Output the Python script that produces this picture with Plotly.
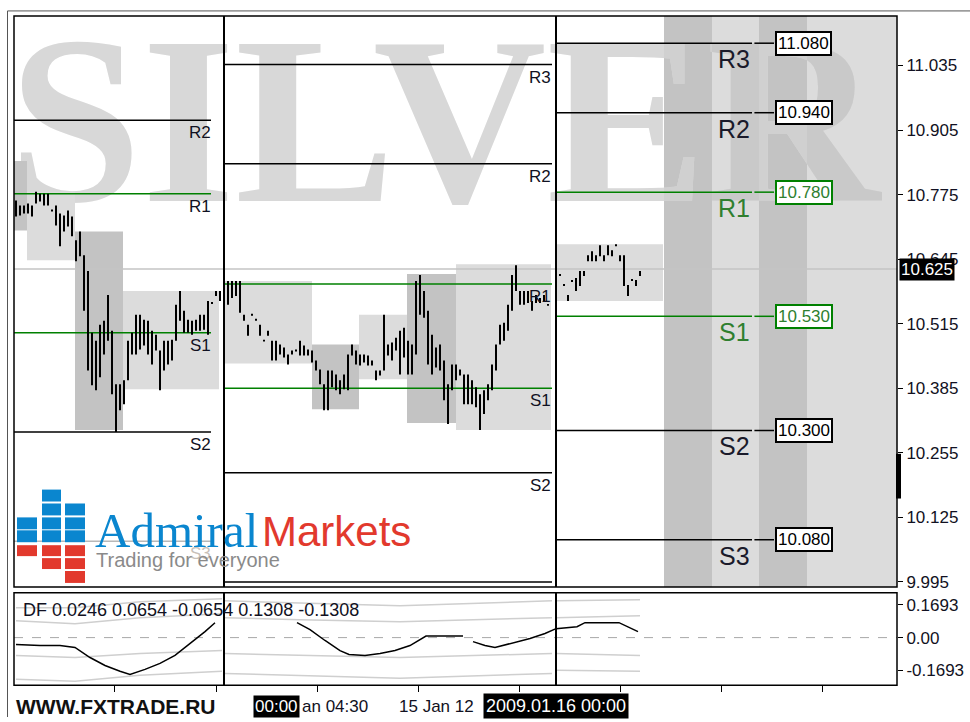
import plotly.graph_objects as go

W, H = 970, 722
def PX(x): return x / W
def PY(y): return 1 - y / H

# ---------------- price bars (bar index, high, low) ----------------
seg1_idx = list(range(0, 52))
seg1_high = [10.763,10.753,10.753,10.757,10.753,10.781,10.777,10.777,10.777,10.745,10.753,10.737,10.733,10.743,10.731,10.683,
             10.701,10.653,10.621,10.497,10.481,10.513,10.521,10.573,10.501,10.393,10.393,10.401,10.481,10.497,10.533,10.533,
             10.523,10.521,10.501,10.493,10.461,10.481,10.481,10.483,10.553,10.581,10.541,10.523,10.521,10.523,10.533,10.533,
             10.561,10.559,10.581,10.581]
seg1_low = [10.731,10.733,10.737,10.737,10.731,10.757,10.761,10.753,10.753,10.741,10.713,10.671,10.701,10.711,10.691,10.641,
            10.651,10.541,10.421,10.391,10.381,10.407,10.453,10.481,10.373,10.297,10.341,10.353,10.401,10.453,10.453,10.463,
            10.471,10.453,10.433,10.461,10.381,10.421,10.433,10.441,10.481,10.521,10.497,10.497,10.493,10.501,10.501,10.503,
            10.493,10.555,10.571,10.561]
seg2_idx = list(range(52, 134))
seg2_high = [10.601,10.601,10.601,10.601,10.601,10.533,10.513,10.535,10.525,10.513,10.483,10.501,10.481,10.481,10.473,10.467,
             10.453,10.461,10.463,10.481,10.471,10.463,10.461,10.441,10.423,10.393,10.421,10.421,10.413,10.401,10.413,10.453,
             10.473,10.461,10.453,10.453,10.451,10.441,10.421,10.421,10.533,10.473,10.477,10.487,10.501,10.507,10.481,10.473,
             10.601,10.613,10.581,10.541,10.493,10.467,10.473,10.441,10.393,10.433,10.433,10.423,10.413,10.413,10.401,10.387,
             10.373,10.381,10.393,10.433,10.473,10.513,10.517,10.553,10.613,10.633,10.581,10.581,10.581,10.561,10.573,10.567,
             10.573,10.555]
seg2_low = [10.553,10.553,10.567,10.571,10.537,10.521,10.491,10.531,10.521,10.491,10.479,10.491,10.441,10.441,10.453,10.447,
            10.433,10.453,10.459,10.451,10.451,10.451,10.437,10.421,10.393,10.341,10.341,10.387,10.381,10.373,10.383,10.381,
            10.451,10.433,10.431,10.437,10.431,10.431,10.401,10.411,10.421,10.451,10.441,10.461,10.413,10.447,10.413,10.413,
            10.453,10.533,10.527,10.433,10.413,10.427,10.421,10.361,10.313,10.381,10.401,10.411,10.353,10.353,10.353,10.347,
            10.301,10.333,10.361,10.381,10.421,10.473,10.481,10.501,10.541,10.581,10.553,10.553,10.557,10.541,10.557,10.557,
            10.561,10.551]
seg3_idx = list(range(136, 157))
seg3_high = [10.615,10.595,10.573,10.603,10.607,10.621,10.621,10.653,10.661,10.653,10.673,10.653,10.673,10.663,10.675,10.653,
             10.653,10.593,10.605,10.603,10.621]
seg3_low = [10.611,10.591,10.561,10.599,10.581,10.591,10.611,10.641,10.641,10.641,10.651,10.641,10.653,10.651,10.671,10.641,
            10.591,10.571,10.601,10.591,10.611]

# ---------------- session boxes ----------------
box_x0 = [-0.5, 2.75, 14.75, 26.75, 52, 74, 85.75, 97.75, 110, 135.25]
box_x1 = [2.75, 14.75, 26.75, 50.75, 74, 85.75, 97.75, 110, 133.75, 161.75]
box_top = [10.843, 10.781, 10.701, 10.581, 10.601, 10.473, 10.533, 10.615, 10.635, 10.675]
box_bot = [10.703, 10.643, 10.301, 10.383, 10.435, 10.343, 10.403, 10.315, 10.301, 10.561]
box_dark = [1, 0, 1, 0, 0, 1, 0, 1, 0, 0]

band_x0 = [162, 174, 185.75, 197.75]
band_x1 = [174, 185.75, 197.75, 220.25]
band_dark = [1, 0, 1, 0]

# ---------------- pivot levels ----------------
piv1_names = ["R2", "R1", "S1", "S2", "S3"]
piv1_vals = [10.925, 10.777, 10.497, 10.297, 10.077]
piv2_names = ["R3", "R2", "R1", "S1", "S2", "S3"]
piv2_vals = [11.037, 10.837, 10.595, 10.385, 10.215, 9.995]
piv3_names = ["R3", "R2", "R1", "S1", "S2", "S3"]
piv3_vals = [11.080, 10.940, 10.780, 10.530, 10.300, 10.080]
piv3_text = ["11.080", "10.940", "10.780", "10.530", "10.300", "10.080"]

seg1_span = (-0.5, 48.75)
seg2_span = (52, 134)
seg3_span = (135.25, 184)
seg3_tail = (184.6, 189.5)
label_box_x = 196.9
separators = [52, 135]
current_price = 10.625

price_ticks = [9.995, 10.125, 10.255, 10.385, 10.515, 10.645, 10.775, 10.905, 11.035]
ind_ticks = [0.1693, 0.0, -0.1693]
ind_ticktext = ["0.1693", "0.00", "-0.1693"]
time_ticks = [-0.75, 24.5, 50, 75.25, 100.5, 125.75, 151, 176.25, 201.5]

# ---------------- indicator DF ----------------
df_x = [0, 6, 11, 14.75, 18.5, 22.25, 26, 28.5, 32.25, 36, 39.75, 43.5, 47.25, 49.75, None,
        70.25, 73.5, 77.25, 81, 83.25, 87.25, 91, 94.75, 98.5, 101.25, 102.5, 111.75, None,
        114.25, 117.25, 119.75, 123.5, 128.5, 132.25, 135, 140.25, 142.25, 150.75, 155.5]
df_y = [-0.036, -0.041, -0.041, -0.051, -0.103, -0.144, -0.174, -0.190, -0.164, -0.133, -0.092, -0.031, 0.031, 0.077, None,
        0.077, 0.041, -0.015, -0.067, -0.087, -0.092, -0.082, -0.067, -0.041, -0.010, 0.008, 0.008, None,
        -0.021, -0.041, -0.051, -0.031, -0.005, 0.021, 0.046, 0.056, 0.077, 0.077, 0.031]

band_seg_x = [[0, 14.75, 31, 51.5], [52.25, 71, 96, 134], [135, 156]]
band_lines = [
    [[0.154, 0.154, 0.185, 0.200], [0.190, 0.180, 0.164, 0.190], [0.190, 0.195]],
    [[0.087, 0.072, 0.103, 0.123], [0.103, 0.092, 0.082, 0.103], [0.103, 0.113]],
    [[-0.092, -0.103, -0.082, -0.067], [-0.082, -0.092, -0.103, -0.082], [-0.082, -0.092]],
    [[-0.215, -0.226, -0.195, -0.174], [-0.185, -0.195, -0.210, -0.185], [-0.169, -0.174]],
]

DARK = "#c3c3c3"
LIGHT = "#dcdcdc"
GREEN = "#008000"
TXT = "#111122"
FONT = "Liberation Sans"
WM_TEXT = "<b>SILVER</b>"
WM_X, WM_Y, WM_SIZE = 107.0, 10.884, 240

X0_PIX, X1_PIX = 14, 897
XR = (-0.5, 220.25)
def k2px(k):
    return X0_PIX + (k - XR[0]) / (XR[1] - XR[0]) * (X1_PIX - X0_PIX)

fig = go.Figure()

# watermark
fig.add_trace(go.Scatter(x=[WM_X], y=[WM_Y], mode="text", text=[WM_TEXT],
                         textfont=dict(family="Liberation Serif", size=WM_SIZE, color="#d8d8d8"),
                         xaxis="x", yaxis="y", hoverinfo="skip", showlegend=False, cliponaxis=False))

# session boxes
for flag, col in ((0, LIGHT), (1, DARK)):
    xs, ys = [], []
    for x0, x1, t, b, d in zip(box_x0, box_x1, box_top, box_bot, box_dark):
        if d != flag:
            continue
        xs += [x0, x1, x1, x0, x0, None]
        ys += [b, b, t, t, b, None]
    fig.add_trace(go.Scatter(x=xs, y=ys, fill="toself", fillcolor=col, mode="lines",
                             line=dict(width=0, color=col), xaxis="x", yaxis="y",
                             hoverinfo="skip", showlegend=False))

# current price line
fig.add_trace(go.Scatter(x=[XR[0], XR[1]], y=[current_price, current_price], mode="lines",
                         line=dict(color="#c4c4c4", width=1.5), xaxis="x", yaxis="y",
                         hoverinfo="skip", showlegend=False))

# pivot lines of the two past days (traces)
def piv_lines(names, vals, span, green):
    xs, ys = [], []
    for n, v in zip(names, vals):
        if (n in ("R1", "S1")) != green:
            continue
        xs += [span[0], span[1], None]
        ys += [v, v, None]
    return xs, ys

for green, col in ((False, "#000000"), (True, GREEN)):
    xs, ys = [], []
    for names, vals, span in ((piv1_names[:-1], piv1_vals[:-1], seg1_span),
                              (piv2_names, piv2_vals, seg2_span)):
        a, b = piv_lines(names, vals, span, green)
        xs += a
        ys += b
    fig.add_trace(go.Scatter(x=xs, y=ys, mode="lines", line=dict(color=col, width=1.5),
                             xaxis="x", yaxis="y", hoverinfo="skip", showlegend=False))
fig.add_trace(go.Scatter(x=[seg1_span[0], seg1_span[1]], y=[piv1_vals[-1]] * 2, mode="lines",
                         line=dict(color="#b8b8b8", width=1.5), xaxis="x", yaxis="y",
                         hoverinfo="skip", showlegend=False))

# bars
bx, by = [], []
for idx, hi, lo in ((seg1_idx, seg1_high, seg1_low), (seg2_idx, seg2_high, seg2_low), (seg3_idx, seg3_high, seg3_low)):
    for k, h, l in zip(idx, hi, lo):
        bx += [k, k, None]
        by += [l, max(h, l + 0.004), None]
fig.add_trace(go.Scatter(x=bx, y=by, mode="lines", line=dict(color="#000000", width=2),
                         xaxis="x", yaxis="y", hoverinfo="skip", showlegend=False))

# indicator
fig.add_trace(go.Scatter(x=[XR[0], XR[1]], y=[0, 0], mode="lines",
                         line=dict(color="#a8a8a8", width=1, dash="dash"), xaxis="x", yaxis="y2",
                         hoverinfo="skip", showlegend=False))
for line in band_lines:
    xs, ys = [], []
    for sx, sy in zip(band_seg_x, line):
        xs += sx + [None]
        ys += sy + [None]
    fig.add_trace(go.Scatter(x=xs, y=ys, mode="lines", line=dict(color="#cfcfcf", width=1.5),
                             xaxis="x", yaxis="y2", hoverinfo="skip", showlegend=False))
fig.add_trace(go.Scatter(x=df_x, y=df_y, mode="lines", line=dict(color="#000000", width=1.5),
                         xaxis="x", yaxis="y2", hoverinfo="skip", showlegend=False, connectgaps=False))

# watermark re-tinted where it crosses the future-time bands (clipped to each band's sub-axis)
extra_axes = {}
for i, (x0, x1, d) in enumerate(zip(band_x0, band_x1, band_dark)):
    ax = f"xaxis{i + 3}"
    extra_axes[ax] = dict(domain=[PX(k2px(x0)), PX(k2px(x1))], range=[x0, x1], visible=False,
                          anchor="y", fixedrange=True)
    fig.add_trace(go.Scatter(x=[WM_X], y=[WM_Y], mode="text", text=[WM_TEXT],
                             textfont=dict(family="Liberation Serif", size=WM_SIZE,
                                           color="#d0d0d0" if d else "#c9c9c9"),
                             xaxis=f"x{i + 3}", yaxis="y", hoverinfo="skip", showlegend=False,
                             cliponaxis=True))

# ---------------- shapes ----------------
shapes = []
for x0, x1, d in zip(band_x0, band_x1, band_dark):
    shapes.append(dict(type="rect", xref="x", yref="paper", x0=x0, x1=x1, y0=PY(591), y1=PY(16),
                       fillcolor=DARK if d else LIGHT, line_width=0, layer="below"))
# next-day pivot lines (drawn above so they stay over the watermark)
for n, v in zip(piv3_names, piv3_vals):
    col = GREEN if n in ("R1", "S1") else "#000"
    for span in (seg3_span, seg3_tail):
        shapes.append(dict(type="line", xref="x", yref="y", x0=span[0], x1=span[1], y0=v, y1=v,
                           line=dict(color=col, width=1.5)))
for s in separators:
    shapes.append(dict(type="line", xref="x", yref="paper", x0=s, x1=s, y0=PY(591), y1=PY(16),
                       line=dict(color="#000", width=2)))
    shapes.append(dict(type="line", xref="x", yref="paper", x0=s, x1=s, y0=PY(690), y1=PY(597),
                       line=dict(color="#000", width=2)))
# frames
shapes.append(dict(type="rect", xref="paper", yref="paper", x0=PX(14), x1=PX(897), y0=PY(591), y1=PY(16),
                   line=dict(color="#000", width=1.5)))
shapes.append(dict(type="rect", xref="paper", yref="paper", x0=PX(14), x1=PX(897), y0=PY(690), y1=PY(597),
                   line=dict(color="#000", width=1.5)))
shapes.append(dict(type="line", xref="paper", yref="paper", x0=PX(7.5), x1=PX(7.5), y0=0, y1=PY(11),
                   line=dict(color="#555", width=1)))
shapes.append(dict(type="line", xref="paper", yref="paper", x0=PX(7.5), x1=1, y0=PY(11), y1=PY(11),
                   line=dict(color="#555", width=1)))
# scroll marker
shapes.append(dict(type="rect", xref="paper", yref="paper", x0=PX(896), x1=PX(901), y0=PY(502), y1=PY(457),
                   fillcolor="#000", line_width=0))
# logo squares
BLUE, RED = "#0a86cf", "#e2392d"
cols = [(17, 37), (42, 61), (65, 85)]
blue_rows = [[(521, 533), (534, 546)], [(493, 505), (507, 519), (521, 533), (534, 546)],
             [(507, 519), (521, 533), (534, 546)]]
red_rows = [[(549, 560)], [(549, 560), (562, 573)], [(549, 560), (562, 573), (575, 587)]]
for (cx0, cx1), br, rr in zip(cols, blue_rows, red_rows):
    for (r0, r1) in br:
        shapes.append(dict(type="rect", xref="paper", yref="paper", x0=PX(cx0), x1=PX(cx1), y0=PY(r1), y1=PY(r0),
                           fillcolor=BLUE, line_width=0))
    for (r0, r1) in rr:
        shapes.append(dict(type="rect", xref="paper", yref="paper", x0=PX(cx0), x1=PX(cx1), y0=PY(r1), y1=PY(r0),
                           fillcolor=RED, line_width=0))

# ---------------- annotations ----------------
ann = []
def lab(x, y, text, size=17, color=TXT, xanchor="right", yanchor="top", **kw):
    d = dict(x=x, y=y, xref="x", yref="y", text=text, showarrow=False, xanchor=xanchor, yanchor=yanchor,
             font=dict(family=FONT, size=size, color=color))
    d.update(kw)
    ann.append(d)

for n, v in zip(piv1_names[:-1], piv1_vals[:-1]):
    lab(49.25, v, n, yshift=-1)
lab(49.25, piv1_vals[-1], piv1_names[-1], color="#c8c0b8", yshift=-1)
for n, v in zip(piv2_names[:-1], piv2_vals[:-1]):
    lab(134.25, v, n, yshift=-1)
for n, v, t in zip(piv3_names, piv3_vals, piv3_text):
    g = n in ("R1", "S1")
    col = "#2f7f2f" if g else "#1a1a2a"
    lab(184, v, n, size=25, color=col, yshift=0)
    ann.append(dict(x=label_box_x, y=v, xref="x", yref="y", text=t, showarrow=False, xanchor="center",
                    yanchor="middle", font=dict(family=FONT, size=17, color=col if g else "#000"),
                    bgcolor="white", bordercolor=GREEN if g else "#000", borderwidth=2, borderpad=1))

# current price tag
ann.append(dict(x=PX(899), y=current_price, xref="paper", yref="y", text="10.625", showarrow=False,
                xanchor="left", yanchor="middle", font=dict(family=FONT, size=17, color="white"),
                bgcolor="black", borderpad=1))

# indicator title
ann.append(dict(x=PX(21), y=PY(614), xref="paper", yref="paper", text="DF 0.0246 0.0654 -0.0654 0.1308 -0.1308",
                showarrow=False, xanchor="left", yanchor="middle", font=dict(family=FONT, size=18, color=TXT)))

# bottom labels
def pap(x, y, text, size=17, color=TXT, xanchor="left", **kw):
    d = dict(x=PX(x), y=PY(y), xref="paper", yref="paper", text=text, showarrow=False, xanchor=xanchor,
             yanchor="middle", font=dict(family=FONT, size=size, color=color))
    d.update(kw)
    ann.append(d)

pap(14, 711, "<b>WWW.FXTRADE.RU</b>", size=21, color="#111")
pap(300, 711, "an 04:30")
pap(397, 711, "15 Jan 12")
pap(276, 711, "00:00", color="white", xanchor="center", bgcolor="black", borderpad=1)
pap(556, 711, "2009.01.16 00:00", size=18, color="white", xanchor="center", bgcolor="black", borderpad=2)

# logo text
pap(93, 534, "Admiral", font=dict(family="Liberation Serif", size=49, color=BLUE))
pap(260, 535, "Markets", size=42, color=RED)
pap(94, 564, "Trading for everyone", size=20, color="#8a8a8a")

layout = dict(
    width=W, height=H, margin=dict(l=0, r=0, t=0, b=0),
    paper_bgcolor="white", plot_bgcolor="rgba(0,0,0,0)", showlegend=False,
    xaxis=dict(domain=[PX(X0_PIX), PX(X1_PIX)], range=list(XR), anchor="y2", showgrid=False, zeroline=False,
               showticklabels=False, ticks="outside", ticklen=6, tickcolor="#000", tickwidth=1,
               tickvals=time_ticks, showline=False, fixedrange=True),
    yaxis=dict(domain=[PY(591), PY(16)], range=[9.985, 11.135], side="right", anchor="x", showgrid=False,
               zeroline=False, tickvals=price_ticks, ticktext=[f"{v:.3f}" for v in price_ticks],
               ticks="outside", ticklen=5, tickcolor="#000", showline=False, fixedrange=True,
               tickfont=dict(family=FONT, size=17, color=TXT)),
    yaxis2=dict(domain=[PY(690), PY(597)], range=[-0.246, 0.231], side="right", anchor="x", showgrid=False,
                zeroline=False, tickvals=ind_ticks, ticktext=ind_ticktext, ticks="outside", ticklen=5,
                tickcolor="#000", showline=False, fixedrange=True, tickfont=dict(family=FONT, size=17, color=TXT)),
    shapes=shapes, annotations=ann,
)
layout.update(extra_axes)
fig.update_layout(**layout)

fig.write_html("out.html", config={"displayModeBar": False, "staticPlot": True},
               post_script="document.body.style.margin='0px';document.body.style.overflow='hidden';")
